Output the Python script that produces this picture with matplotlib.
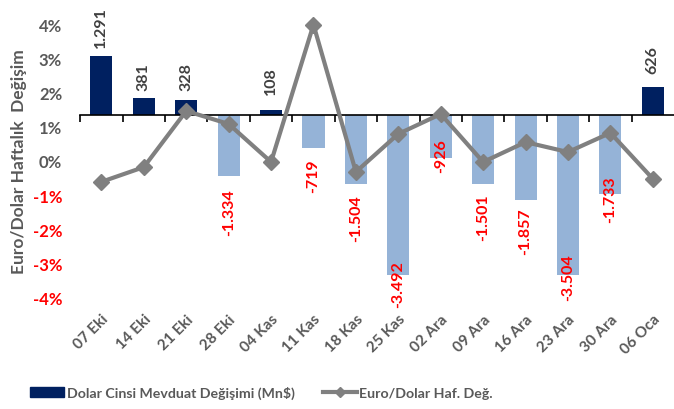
import matplotlib
matplotlib.use("Agg")
import matplotlib.pyplot as plt
import numpy as np
from matplotlib.lines import Line2D
from matplotlib.patches import Patch
from matplotlib.ticker import FixedLocator

plt.rcParams["font.family"] = ["Lato", "DejaVu Sans"]

weeks = ["07 Eki", "14 Eki", "21 Eki", "28 Eki", "04 Kas", "11 Kas", "18 Kas",
         "25 Kas", "02 Ara", "09 Ara", "16 Ara", "23 Ara", "30 Ara", "06 Oca"]
deposit_chg = [1291, 381, 328, -1334, 108, -719, -1504, -3492, -926, -1501,
               -1857, -3504, -1733, 626]
eurusd_chg = [-0.61, -0.18, 1.46, 1.08, -0.03, 3.98, -0.32, 0.79, 1.37, -0.03,
              0.55, 0.26, 0.82, -0.52]

NAVY, LIGHT, GREY, TXT, RED = "#002060", "#95b3d7", "#808080", "#595959", "#ff0000"
# label gap from bar end, in pixels (as placed in the original)
label_gap = [9, 8, 10, 12, 16, 10, 10, -15, -19, 10, 7, -22, -19, 14]

x = np.arange(len(weeks))

fig = plt.figure(figsize=(6.74, 4.10), dpi=100)
ax = fig.add_axes([0.119, 0.271, 0.881, 0.668])
ax2 = ax.twinx()
ax.set_zorder(ax2.get_zorder() + 1)
ax.patch.set_visible(False)

# bars (secondary hidden scale)
cols = [NAVY if v >= 0 else LIGHT for v in deposit_chg]
ax2.bar(x, deposit_chg, width=0.52, color=cols)
ax2.set_ylim(-4000, 2000)
ax2.set_xlim(-0.5, len(weeks) - 0.5)
ax2.yaxis.set_visible(False)
ax2.xaxis.set_visible(True)
for s in ["top", "left", "right"]:
    ax2.spines[s].set_visible(False)
ax2.spines["bottom"].set_position(("data", 0))
ax2.spines["bottom"].set_linewidth(1.2)

for xi, v, g in zip(x, deposit_chg, label_gap):
    lbl = f"{v:,}".replace(",", ".")
    if v >= 0:
        ax2.annotate(lbl, (xi, v), xytext=(0, g), textcoords="offset pixels",
                     rotation=90, ha="center", va="bottom", fontsize=11.5,
                     fontweight="bold", color="#404040")
    else:
        ax2.annotate(lbl, (xi, v), xytext=(0, -g), textcoords="offset pixels",
                     rotation=90, ha="center", va="top", fontsize=11.5,
                     fontweight="bold", color=RED)

# line (primary % scale)
ax.plot(x, eurusd_chg, color=GREY, lw=3, marker="D", markersize=8, zorder=5,
        clip_on=False)
ax.set_ylim(-4, 4)
ax.set_xlim(-0.5, len(weeks) - 0.5)
ax.set_yticks(range(-4, 5))
ax.set_yticklabels([f"{t}%" for t in range(-4, 5)])
for t, lab in zip(range(-4, 5), ax.get_yticklabels()):
    lab.set_color(RED if t < 0 else TXT)
    lab.set_fontweight("bold")
    lab.set_fontsize(12)
ax.set_xticks(x)
ax.set_xticklabels(weeks, rotation=45, ha="right", rotation_mode="anchor",
                   fontsize=11, fontweight="bold", color=TXT)
ax.xaxis.set_minor_locator(FixedLocator(np.arange(-0.5, len(weeks) - 0.5, 1)))
ax.tick_params(axis="both", which="both", length=0)
ax.tick_params(axis="y", pad=13)
ax.tick_params(axis="x", pad=10)
ax2.tick_params(axis="x", which="major", length=0, labelbottom=False)
ax2.tick_params(axis="x", which="minor", length=5, width=1.2, direction="out")
for s in ax.spines.values():
    s.set_visible(False)
ax.set_ylabel("Euro/Dolar Haftalık  Değişim", fontsize=12.5, fontweight="bold",
              color=TXT, labelpad=4)

handles = [Patch(color=NAVY),
           Line2D([], [], color=GREY, lw=3, marker="D", markersize=5)]
fig.legend(handles, ["Dolar Cinsi Mevduat Değişimi (Mn$)", "Euro/Dolar Haf. Değ."],
           loc="center", bbox_to_anchor=(0.388, 0.04), ncol=2, frameon=False,
           handlelength=2.4, handletextpad=0.15, columnspacing=2.0,
           prop={"weight": "bold", "size": 10.2})
for t in fig.legends[0].get_texts():
    t.set_color(TXT)

fig.savefig("out.png", dpi=100, facecolor="white")
